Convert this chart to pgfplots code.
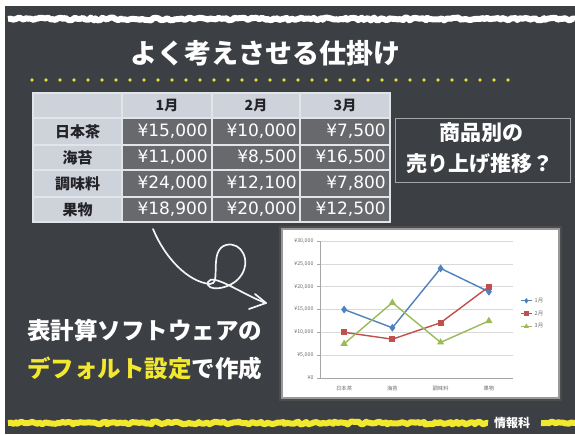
\documentclass[border=0pt]{standalone}
\usepackage{fontspec}
\setmainfont{Noto Sans CJK JP}
\newfontfamily\numfont{DejaVu Sans}
\usepackage{pgfplots}
\pgfplotsset{compat=1.18}
\usetikzlibrary{decorations.pathmorphing}
\definecolor{board}{RGB}{60,63,68}
\definecolor{tlight}{RGB}{206,211,219}
\definecolor{tdark}{RGB}{104,105,109}
\definecolor{tline}{RGB}{225,228,232}
\definecolor{chalkyellow}{RGB}{242,232,45}
\definecolor{dotyellow}{RGB}{228,218,60}
\definecolor{xlblue}{RGB}{79,129,189}
\definecolor{xlred}{RGB}{192,80,77}
\definecolor{xlgreen}{RGB}{155,187,89}
\definecolor{ticktext}{RGB}{110,110,110}
\definecolor{tabtext}{RGB}{35,35,40}
\tikzset{num/.style={white, anchor=east, inner sep=0pt, font=\numfont\fontsize{17}{17}\selectfont}}
\begin{document}
\begin{tikzpicture}
\path[use as bounding box] (0,0) rectangle (575pt,434pt);
\fill[white] (0,0) rectangle (575pt,434pt);
\fill[board] (5pt,0) rectangle (575pt,428pt);
\begin{scope}[yshift=434pt, x=1pt, y=-1pt]
  \pgfmathsetseed{7}
  % top chalk line
  \draw[white, line width=6pt, line join=round, decorate, decoration={random steps, segment length=2.5pt, amplitude=1.4pt}] (8,19) -- (575,19);
  % bottom chalk lines
  \draw[chalkyellow, line width=6pt, line join=round, decorate, decoration={random steps, segment length=2.5pt, amplitude=1.4pt}] (8,423) -- (488,423);
  \draw[chalkyellow, line width=6pt, line join=round, decorate, decoration={random steps, segment length=2.5pt, amplitude=1.4pt}] (541,423) -- (575,423);
  \node[white, font=\fontsize{12}{12}\selectfont\bfseries] at (512,423) {情報科};
  % title
  \node[white, font=\fontsize{27}{27}\selectfont\bfseries] at (265,53) {よく考えさせる仕掛け};
  \foreach \i in {0,...,34} \fill[dotyellow] (32+\i*14,80) circle (1.8pt);
  % table
  \fill[tlight] (33,93) rectangle (390,222);
  \fill[tdark] (122,118) rectangle (390,222);
  \draw[tline, line width=1.4pt] (33,93) rectangle (390,222);
  \foreach \xx in {122,212,300} \draw[tline, line width=1.4pt] (\xx,93) -- (\xx,222);
  \foreach \yy in {118,145,170,197} \draw[tline, line width=1.4pt] (33,\yy) -- (390,\yy);
  \node[text=tabtext, font=\fontsize{14}{14}\selectfont\bfseries] at (167,105.5) {1月};
  \node[text=tabtext, font=\fontsize{14}{14}\selectfont\bfseries] at (256,105.5) {2月};
  \node[text=tabtext, font=\fontsize{14}{14}\selectfont\bfseries] at (345,105.5) {3月};
  \node[text=tabtext, font=\fontsize{15}{15}\selectfont\bfseries] at (77.5,131.5) {日本茶};
  \node[text=tabtext, font=\fontsize{15}{15}\selectfont\bfseries] at (77.5,157.5) {海苔};
  \node[text=tabtext, font=\fontsize{15}{15}\selectfont\bfseries] at (77.5,183.5) {調味料};
  \node[text=tabtext, font=\fontsize{15}{15}\selectfont\bfseries] at (77.5,209.5) {果物};
  \node[num] at (208,131.5) {¥15,000};
  \node[num] at (297,131.5) {¥10,000};
  \node[num] at (386,131.5) {¥7,500};
  \node[num] at (208,157.5) {¥11,000};
  \node[num] at (297,157.5) {¥8,500};
  \node[num] at (386,157.5) {¥16,500};
  \node[num] at (208,183.5) {¥24,000};
  \node[num] at (297,183.5) {¥12,100};
  \node[num] at (386,183.5) {¥7,800};
  \node[num] at (208,209.5) {¥18,900};
  \node[num] at (297,209.5) {¥20,000};
  \node[num] at (386,209.5) {¥12,500};
  % question box
  \draw[gray!70, line width=0.7pt] (395,118) rectangle (570,182);
  \node[white, font=\fontsize{21}{21}\selectfont\bfseries] at (481,133) {商品別の};
  \node[white, font=\fontsize{21}{21}\selectfont\bfseries] at (480,164) {売り上げ推移？};
  % left text
  \node[anchor=west, inner sep=0pt, white, font=\fontsize{23.5}{24}\selectfont\bfseries] at (27,330) {表計算ソフトウェアの};
  \node[anchor=west, inner sep=0pt, white, font=\fontsize{23.5}{24}\selectfont\bfseries] at (27,368) {\textcolor{chalkyellow}{デフォルト設定}で作成};
  % curly arrow
  \draw[white!92!gray, line width=1.7pt, line cap=round, line join=round]
    (153,229) .. controls (165,258) and (188,282) .. (210,284)
    .. controls (222,285) and (208,250) .. (226,245)
    .. controls (242,241) and (252,262) .. (240,277)
    .. controls (230,290) and (205,292) .. (208,282)
    .. controls (212,272) and (245,296) .. (266,303);
  \draw[white!92!gray, line width=1.7pt, line cap=round, line join=round]
    (255,294) -- (266,303) -- (249,309);
  % chart box
  \fill[gray!60!black] (279,226) rectangle (562,401);
  \fill[gray!80] (281,228) rectangle (560,399);
  \fill[white] (283,230) rectangle (558,397);
\end{scope}
\begin{axis}[
  at={(320pt,56pt)}, anchor=south west,
  width=193pt, height=137pt, scale only axis,
  xmin=-0.5, xmax=3.5, ymin=0, ymax=30000,
  scaled y ticks=false,
  ytick={0,5000,10000,15000,20000,25000,30000},
  yticklabels={{¥0},{¥5,000},{¥10,000},{¥15,000},{¥20,000},{¥25,000},{¥30,000}},
  xtick={0,1,2,3},
  xticklabels={日本茶,海苔,調味料,果物},
  tick label style={font=\fontsize{5.3}{5.3}\selectfont, text=ticktext},
  xticklabel style={yshift=-2pt},
  xtick style={draw=none},
  ytick style={draw=gray!70, line width=0.4pt},
  tick align=outside, major tick length=3pt,
  ymajorgrids, grid style={gray!30, line width=0.4pt},
  axis x line*=bottom, axis y line*=left,
  axis line style={gray!70, line width=0.5pt},
  legend style={at={(1.035,0.47)}, anchor=west, draw=none, fill=none,
    font=\fontsize{5.5}{5.5}\selectfont, text=ticktext, row sep=3pt, inner sep=0pt},
  legend cell align=left,
  legend image code/.code={\draw[mark repeat=2,mark phase=2, mark size=1.6pt] plot coordinates {(0cm,0cm) (0.2cm,0cm) (0.4cm,0cm)};},
]
\addplot[color=xlblue, line width=1.4pt, mark=diamond*, mark size=2.8pt] coordinates {(0,15000) (1,11000) (2,24000) (3,18900)};
\addplot[color=xlred, line width=1.4pt, mark=square*, mark size=2.2pt] coordinates {(0,10000) (1,8500) (2,12100) (3,20000)};
\addplot[color=xlgreen, line width=1.4pt, mark=triangle*, mark size=2.8pt] coordinates {(0,7500) (1,16500) (2,7800) (3,12500)};
\legend{1月,2月,3月}
\end{axis}
\end{tikzpicture}
\end{document}
